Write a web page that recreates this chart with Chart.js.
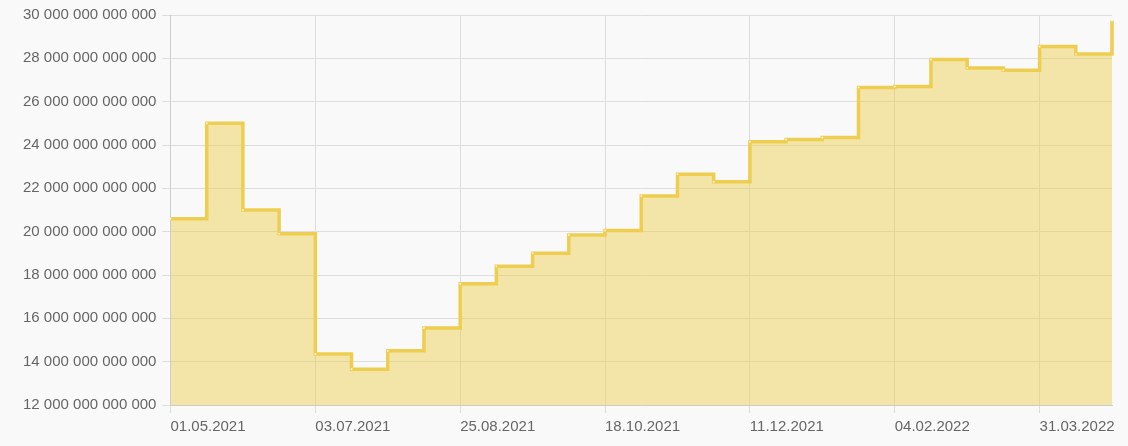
<!DOCTYPE html>
<html>
<head>
<meta charset="utf-8">
<script src="https://cdn.jsdelivr.net/npm/chart.js@4/dist/chart.umd.min.js"></script>
<style>
  html, body { margin: 0; padding: 0; background: #f9f9f9; }
  #wrap { width: 1128px; height: 446px; }
</style>
</head>
<body>
<div id="wrap"><canvas id="chart"></canvas></div>
<script>
const dates = [
  "01.05.2021", "17.05.2021", "02.06.2021", "18.06.2021",
  "03.07.2021", "16.07.2021", "29.07.2021", "11.08.2021",
  "25.08.2021", "07.09.2021", "21.09.2021", "04.10.2021",
  "18.10.2021", "31.10.2021", "14.11.2021", "27.11.2021",
  "11.12.2021", "25.12.2021", "08.01.2022", "22.01.2022",
  "04.02.2022", "18.02.2022", "04.03.2022", "17.03.2022",
  "31.03.2022", "14.04.2022", "28.04.2022"
]
// in trillions
const values = [
  20.6, 25.0, 21.0, 19.9,
  14.35, 13.65, 14.5, 15.55,
  17.6, 18.4, 19.0, 19.85,
  20.05, 21.65, 22.65, 22.3,
  24.15, 24.25, 24.35, 26.65,
  26.7, 27.95, 27.55, 27.45,
  28.55, 28.2, 29.75
]
const yMin = 12e12
const yMax = 30e12
const yStep = 2e12
const labelEvery = 4

const formatNum = v => Math.round(v).toString().replace(/\B(?=(\d{3})+(?!\d))/g, " ")
const shown = i => i % labelEvery === 0

Chart.defaults.font.family = "'Liberation Sans', Arial, sans-serif"
Chart.defaults.font.size = 15
Chart.defaults.color = "#666"

new Chart(document.getElementById("chart"), {
  type: "line",
  data: {
    labels: dates,
    datasets: [{
      data: values.map(v => v * 1e12),
      stepped: true,
      borderColor: "rgb(238, 206, 80)",
      backgroundColor: "rgba(236, 204, 78, 0.48)",
      borderWidth: 3.5,
      fill: "start",
      pointRadius: 1,
      pointBorderWidth: 0,
      pointBackgroundColor: "rgba(255, 255, 255, 0.7)",
    }]
  },
  options: {
    responsive: true,
    maintainAspectRatio: false,
    animation: false,
    layout: { padding: { top: 13, right: 16, left: 17, bottom: 5 } },
    plugins: { legend: { display: false }, tooltip: { enabled: false } },
    scales: {
      x: {
        grid: {
          tickLength: 8,
          color: ctx => shown(ctx.index) ? "#ddd" : "rgba(0,0,0,0)"
        },
        border: { color: "#ccc" },
        ticks: {
          autoSkip: false,
          maxRotation: 0,
          align: "start",
          padding: 5,
          callback: function (val, i) { return shown(i) ? dates[i] : "" }
        }
      },
      y: {
        min: yMin,
        max: yMax,
        grid: { color: "#ddd", tickLength: 8 },
        border: { color: "#ccc" },
        ticks: {
          stepSize: yStep,
          padding: 6,
          callback: v => formatNum(v)
        }
      }
    }
  }
})
</script>
</body>
</html>
